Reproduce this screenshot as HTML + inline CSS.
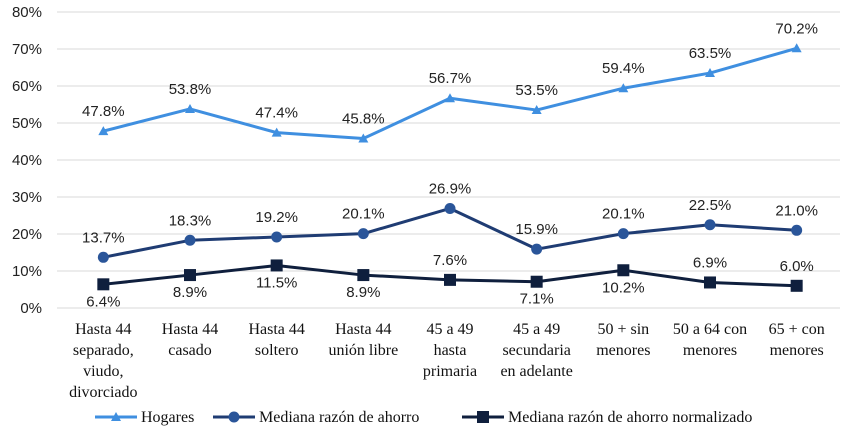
<!DOCTYPE html>
<html><head><meta charset="utf-8"><style>
body{margin:0;background:#fff}
svg{display:block}
.t{font-family:"Liberation Sans",sans-serif;font-size:15px;fill:#222}
.c{font-family:"Liberation Serif",serif;font-size:16px;fill:#111}
</style></head><body>
<svg id="chart" width="850" height="428"></svg>
<script>
const categories=[["Hasta 44","separado,","viudo,","divorciado"],["Hasta 44","casado"],["Hasta 44","soltero"],["Hasta 44","unión libre"],["45 a 49","hasta","primaria"],["45 a 49","secundaria","en adelante"],["50 + sin","menores"],["50 a 64 con","menores"],["65 + con","menores"]];
const hogares=[47.8,53.8,47.4,45.8,56.7,53.5,59.4,63.5,70.2];
const mediana=[13.7,18.3,19.2,20.1,26.9,15.9,20.1,22.5,21.0];
const normalizado=[6.4,8.9,11.5,8.9,7.6,7.1,10.2,6.9,6.0];
const normAbove=[false,false,false,false,true,false,false,true,true];
const yTicks=[0,10,20,30,40,50,60,70,80];
const NS="http://www.w3.org/2000/svg";
const svg=document.getElementById('chart');
const x0=60,x1=840,y0=308,yTop=12;
const xs=i=>x0+(i+0.5)*(x1-x0)/categories.length;
const ys=v=>y0-(v/80)*(y0-yTop);
function el(tag,attrs,parent){const e=document.createElementNS(NS,tag);for(const k in attrs)e.setAttribute(k,attrs[k]);(parent||svg).appendChild(e);return e;}
yTicks.forEach(v=>{
 const g=el('line',{x1:57,x2:840,y1:ys(v),y2:ys(v),stroke:'#d9d9d9','stroke-width':1});
 
 
 const t=el('text',{x:42,y:ys(v)+5,'text-anchor':'end',class:'t'});
 t.textContent=v+'%';
 
 
});
categories.forEach((lines,i)=>{
 const t=el('text',{x:xs(i),y:334,'text-anchor':'middle',class:'c'});
 
 
 lines.forEach((l,j)=>{const s=el('tspan',{x:xs(i),dy:j?21:0},t);s.textContent=l;});
});
function marker(type,cx,cy,color,parent){
 if(type==='tri')return el('polygon',{points:`${cx},${cy-5} ${cx-5},${cy+4} ${cx+5},${cy+4}`,fill:color},parent);
 if(type==='circ')return el('circle',{cx,cy,r:5.5,fill:color},parent);
 return el('rect',{x:cx-6,y:cy-6,width:12,height:12,fill:color},parent);
}
function series(data,name,color,mcolor,type,above){
 const g=el('g',{});
 
 
 el('polyline',{points:data.map((v,i)=>xs(i)+','+ys(v)).join(' '),fill:'none',stroke:color,'stroke-width':3,'stroke-linejoin':'round'},g);
 data.forEach((v,i)=>{
  const m=marker(type,xs(i),ys(v),mcolor,g);
  
  
  const up=above(i);
  const t=el('text',{x:xs(i),y:up?ys(v)-15:ys(v)+22,'text-anchor':'middle',class:'t'},g);
  t.textContent=v.toFixed(1)+'%';
  
  
 });
}
series(hogares,'hogares','#3f8fe0','#3f8fe0','tri',()=>true);
series(mediana,'mediana','#1f3c73','#2a5599','circ',()=>true);
series(normalizado,'normalizado','#0f1f3d','#0f1f3d','sq',i=>normAbove[i]);
const leg=[['Hogares','#3f8fe0','#3f8fe0','tri',95],['Mediana razón de ahorro','#1f3c73','#2a5599','circ',213],['Mediana razón de ahorro normalizado','#0f1f3d','#0f1f3d','sq',462]];
leg.forEach(([lab,c,mc,tp,lx])=>{
 const g=el('g',{});
 
 
 el('line',{x1:lx,x2:lx+42,y1:417,y2:417,stroke:c,'stroke-width':3},g);
 marker(tp,lx+21,417,mc,g);
 const t=el('text',{x:lx+46,y:422,class:'c'},g);t.textContent=lab;
});
</script>
</body></html>
